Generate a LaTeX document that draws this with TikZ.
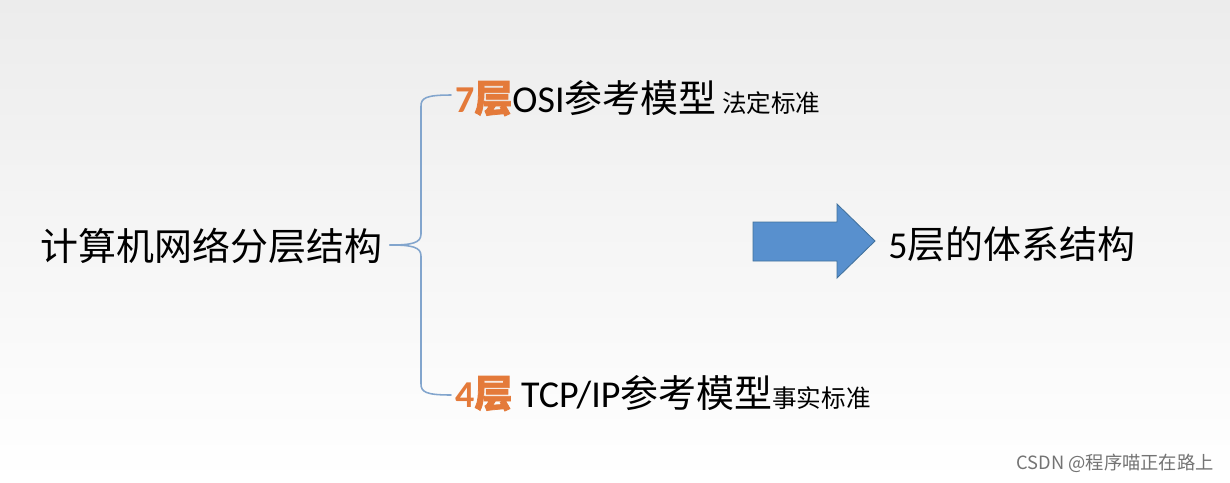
\documentclass[tikz,border=0pt]{standalone}
\usepackage{fontspec}
\setmainfont{Carlito}
\newfontfamily\cjk{Noto Sans CJK SC}
\newfontfamily\cjkbold[FakeBold=2]{Noto Sans CJK SC}
\definecolor{bgtop}{RGB}{236,236,236}
\definecolor{layerorange}{RGB}{228,122,58}
\definecolor{braceblue}{RGB}{130,165,205}
\definecolor{arrowblue}{RGB}{88,144,206}
\definecolor{arrowedge}{RGB}{65,113,156}
\definecolor{markgray}{RGB}{115,115,115}
\newcommand{\ceng}[1]{{\color{layerorange}\bfseries #1\cjkbold 层}}
\newcommand{\bigtxt}{\fontsize{27}{31}\selectfont}
\newcommand{\smalltxt}{\fontsize{17.5}{20}\selectfont}
\tikzset{
  txt/.style={anchor=west, inner sep=0pt, font=\bigtxt},
  brace/.style={draw=braceblue, line width=1.1pt},
}
\begin{document}
\begin{tikzpicture}[x=0.025cm,y=-0.025cm,line cap=round]

	\shade[top color=bgtop,bottom color=white] (0,0) rectangle (1230,482);
	\useasboundingbox (0,0) rectangle (1230,482);

	% left side and the two models
	\node[txt] (root) at (40,246) {\cjk 计算机网络分层结构};
	\node[txt] (osi) at (455,98) {\ceng{7}OSI\cjk 参考模型\hspace{4pt}{\smalltxt 法定标准}};
	\node[txt] (tcp) at (455,393) {\ceng{4} TCP/IP\cjk 参考模型{\smalltxt 事实标准}};

	\coordinate (tip) at (390,245);
	\draw[brace] (tip) .. controls (412,245) and (421,243) .. (421,234) -- (421,106) .. controls (421,98) and (426,95) .. ([shift={(-4,-3)}]osi.west);
	\draw[brace] (tip) .. controls (412,245) and (421,247) .. (421,256) -- (421,384) .. controls (421,392) and (426,395) .. ([shift={(-4,2)}]tcp.west);

	% block arrow and result
	\filldraw[fill=arrowblue, draw=arrowedge, line width=0.6pt, line join=miter] (753,222) -- (837,222) -- (837,204) -- (875,241) -- (837,278) -- (837,261) -- (753,261) -- cycle;
	\node[txt] (five) at (888,244) {5\cjk 层的体系结构};

	\node[anchor=east, inner sep=0pt, text=markgray, font=\fontsize{13}{15}\selectfont] (mark) at (1214,463) {\cjk CSDN @程序喵正在路上};

\end{tikzpicture}
\end{document}
